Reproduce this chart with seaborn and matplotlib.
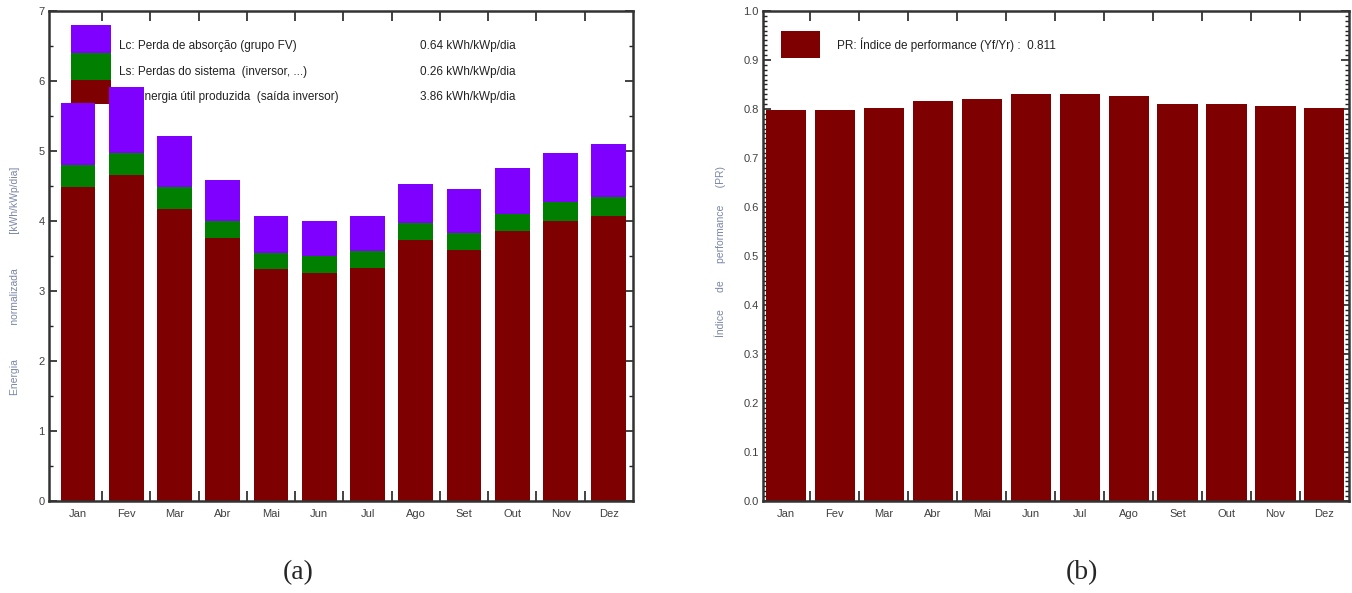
import matplotlib
matplotlib.use('Agg')
import numpy as np
import pandas as pd
import matplotlib.pyplot as plt
import seaborn as sns
from matplotlib.patches import Rectangle
from matplotlib.ticker import MultipleLocator, FixedLocator

# monthly values
months = ['Jan', 'Fev', 'Mar', 'Abr', 'Mai', 'Jun', 'Jul', 'Ago', 'Set', 'Out', 'Nov', 'Dez']
yf = [4.49, 4.66, 4.17, 3.76, 3.31, 3.26, 3.33, 3.73, 3.59, 3.86, 4.00, 4.07]   # energia util
ls = [0.31, 0.31, 0.32, 0.24, 0.23, 0.24, 0.24, 0.24, 0.24, 0.24, 0.27, 0.27]   # perdas sistema
lc = [0.89, 0.94, 0.72, 0.59, 0.53, 0.50, 0.50, 0.56, 0.63, 0.66, 0.70, 0.76]   # perdas absorcao
pr = [0.797, 0.797, 0.802, 0.816, 0.821, 0.831, 0.831, 0.826, 0.811, 0.811, 0.807, 0.802]

legend_labels = ['Lc: Perda de absorção (grupo FV)',
                 'Ls: Perdas do sistema  (inversor, ...)',
                 'Yf: Energia útil produzida  (saída inversor)']
legend_values = ['0.64 kWh/kWp/dia', '0.26 kWh/kWp/dia', '3.86 kWh/kWp/dia']

RED = '#7f0000'
GREEN = '#007f00'
PURPLE = '#8000ff'
TICK_C = '#404040'
LAB_C = '#7a86a8'

sns.set_theme(style='white')
plt.rcParams['font.family'] = ['Liberation Sans', 'DejaVu Sans']

df = pd.DataFrame({'month': months, 'yf': yf, 'ls': ls, 'lc': lc, 'pr': pr})
df['sys_top'] = df['yf'] + df['ls']
df['total'] = df['sys_top'] + df['lc']

fig = plt.figure(figsize=(13.52, 5.93), dpi=100)
ax1 = fig.add_axes([0.0362, 0.155, 0.432, 0.8265])
ax2 = fig.add_axes([0.5643, 0.155, 0.4334, 0.8265])

# ---- (a) normalized energy, stacked ----
for col, c in [('total', PURPLE), ('sys_top', GREEN), ('yf', RED)]:
    sns.barplot(data=df, x='month', y=col, color=c, saturation=1, width=0.72,
                linewidth=0, ax=ax1, zorder=2)

ax1.set_xlim(-0.6, 11.5)
ax1.set_ylim(0, 7)
ax1.yaxis.set_major_locator(MultipleLocator(1))
ax1.yaxis.set_minor_locator(MultipleLocator(0.5))
ax1.set_xlabel('')
ax1.set_ylabel('Energia            normalizada            [kWh/kWp/dia]', fontsize=7.5, color=LAB_C)
ax1.yaxis.set_label_coords(-0.05, 0.45)

# legend drawn under the bars (Fev bar covers part of the last row, as in the report)
sw_x, sw_w = 0.038, 0.068
rows_y = [(0.914, 0.057), (0.859, 0.055), (0.81, 0.049)]
for (y0, h), c in zip(rows_y, [PURPLE, GREEN, RED]):
    ax1.add_patch(Rectangle((sw_x, y0), sw_w, h, transform=ax1.transAxes,
                            color=c, zorder=1, lw=0))
for i, (lab, val) in enumerate(zip(legend_labels, legend_values)):
    yy = 0.928 - i * 0.052
    ax1.text(0.12, yy, lab, transform=ax1.transAxes, fontsize=8.5, color='#222222',
             va='center', zorder=1)
    ax1.text(0.635, yy, val, transform=ax1.transAxes, fontsize=8.5, color='#222222',
             va='center', zorder=1)

# ---- (b) performance ratio ----
sns.barplot(data=df, x='month', y='pr', color=RED, saturation=1, width=0.82,
            linewidth=0, ax=ax2, zorder=2)
ax2.set_xlim(-0.47, 11.5)
ax2.set_ylim(0, 1.0)
ax2.yaxis.set_major_locator(MultipleLocator(0.1))
ax2.yaxis.set_minor_locator(MultipleLocator(0.01))
ax2.yaxis.set_major_formatter(matplotlib.ticker.FormatStrFormatter('%.1f'))
ax2.set_xlabel('')
ax2.set_ylabel('Índice      de      performance      (PR)', fontsize=7.5, color=LAB_C)
ax2.yaxis.set_label_coords(-0.063, 0.51)

ax2.add_patch(Rectangle((0.031, 0.904), 0.066, 0.056, transform=ax2.transAxes,
                        color=RED, zorder=1, lw=0))
ax2.text(0.126, 0.932, 'PR: Índice de performance (Yf/Yr) :  0.811', transform=ax2.transAxes,
         fontsize=8.5, color='#222222', va='center', zorder=1)

# ---- shared frame / tick styling ----
for ax in (ax1, ax2):
    ax.xaxis.set_minor_locator(FixedLocator(np.arange(0.5, 11.0, 1.0)))
    ax.tick_params(axis='x', which='major', length=0, labelsize=8, labelcolor=TICK_C, pad=6)
    ax.tick_params(axis='x', which='minor', direction='in', length=7, width=1.2,
                   top=True, bottom=True, color='#222222')
    ax.tick_params(axis='y', which='major', direction='in', length=6, width=1.2,
                   left=True, right=True, labelsize=8, labelcolor=TICK_C, pad=3, color='#222222')
    ax.tick_params(axis='y', which='minor', direction='in', length=3, width=1,
                   left=True, right=True, color='#222222')
    for s in ax.spines.values():
        s.set_color('#333333')
        s.set_linewidth(1.8)
        s.set_zorder(3)

fig.text(298 / 1352, 1 - 573 / 593, '(a)', fontsize=20, family='Liberation Serif',
         ha='center', va='center')
fig.text(1082 / 1352, 1 - 573 / 593, '(b)', fontsize=20, family='Liberation Serif',
         ha='center', va='center')

fig.savefig('out.png', dpi=100)
